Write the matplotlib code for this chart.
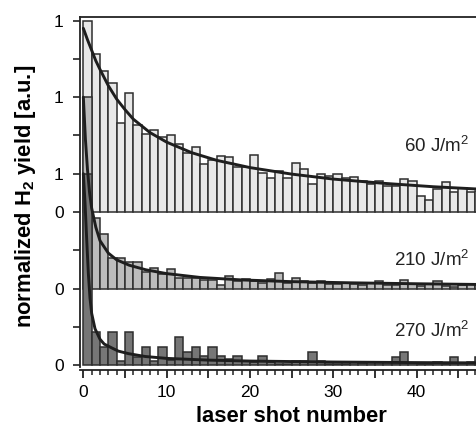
import numpy as np
import matplotlib
matplotlib.use("Agg")
import matplotlib.pyplot as plt
from matplotlib.ticker import MultipleLocator, FixedLocator

plt.rcParams['font.family'] = ['Liberation Sans', 'DejaVu Sans']
plt.rcParams['mathtext.fontset'] = 'custom'
plt.rcParams['mathtext.rm'] = 'Liberation Sans'
plt.rcParams['mathtext.bf'] = 'Liberation Sans:bold'

# ---- data (normalized yields, one value per laser shot) ----
shots = np.arange(48)

v60 = [1.0, 0.825, 0.737, 0.673, 0.464, 0.62, 0.455, 0.407, 0.427, 0.392,
       0.404, 0.356, 0.31, 0.338, 0.249, 0.273, 0.292, 0.288, 0.235, 0.237,
       0.299, 0.202, 0.176, 0.212, 0.177, 0.258, 0.226, 0.146, 0.197, 0.189,
       0.2, 0.179, 0.183, 0.162, 0.147, 0.163, 0.136, 0.136, 0.175, 0.161,
       0.083, 0.061, 0.118, 0.157, 0.103, 0.127, 0.104, 0.11]

v210 = [1.0, 0.37, 0.287, 0.158, 0.157, 0.139, 0.138, 0.086, 0.109, 0.075,
        0.104, 0.057, 0.057, 0.055, 0.044, 0.044, 0.018, 0.068, 0.038, 0.052,
        0.038, 0.03, 0.052, 0.083, 0.028, 0.054, 0.04, 0.027, 0.04, 0.026,
        0.026, 0.031, 0.026, 0.017, 0.03, 0.04, 0.018, 0.018, 0.044, 0.022,
        0.014, 0.022, 0.04, 0.012, 0.01, 0.018, 0.022, 0.022]

v270 = [1.0, 0.171, 0.092, 0.171, 0.019, 0.171, 0.04, 0.094, 0.02, 0.094,
        0.025, 0.145, 0.07, 0.094, 0.047, 0.096, 0.049, 0.03, 0.047, 0.02,
        0.014, 0.047, 0.014, 0.008, 0.008, 0.02, 0.02, 0.068, 0.02, 0.008,
        0.008, 0.008, 0.017, 0.01, 0.017, 0.017, 0.017, 0.04, 0.066, 0.01,
        0.008, 0.008, 0.017, 0.008, 0.044, 0.01, 0.017, 0.04]

# fit curves
fit60_x = [0, 0.5, 1, 1.5, 2, 3, 4, 5, 6, 8, 10, 13, 16, 20, 25, 30, 36, 42, 50]
fit60_y = [0.96, 0.90, 0.845, 0.79, 0.745, 0.66, 0.59, 0.535, 0.485, 0.415,
           0.365, 0.31, 0.27, 0.232, 0.198, 0.172, 0.15, 0.132, 0.114]

fit210_x = [0, 0.25, 0.5, 0.75, 1, 1.5, 2, 3, 4, 5.5, 7.5, 10, 14, 19, 25, 32, 40, 50]
fit210_y = [1.0, 0.78, 0.62, 0.5, 0.42, 0.32, 0.25, 0.185, 0.15, 0.122, 0.098,
            0.078, 0.058, 0.045, 0.036, 0.03, 0.025, 0.02]

fit270_x = [0, 0.2, 0.4, 0.6, 0.8, 1.0, 1.4, 2.0, 2.5, 3.4, 4.2, 5.4, 7.4, 10,
            15, 20, 30, 40, 50]
fit270_y = [1.0, 0.85, 0.66, 0.48, 0.35, 0.27, 0.19, 0.135, 0.11, 0.09, 0.073,
            0.06, 0.045, 0.035, 0.026, 0.021, 0.016, 0.013, 0.011]

offsets = [0.8, 0.4, 0.0]
labels = ['60 J/m$^2$', '210 J/m$^2$', '270 J/m$^2$']
label_y = [1.145, 0.553, 0.18]
colors = ['#e8e8e8', '#bcbcbc', '#767676']

ytick_pos = [0, 0.2, 0.4, 0.6, 0.8, 1.0, 1.2, 1.4, 1.6, 1.8]
ytick_lab = ['0', '', '0', '', '0', '1', '', '1', '', '1']

# ---- figure ----
W, H = 476, 430
fig = plt.figure(figsize=(W / 100, H / 100), dpi=100)
left_px, right_px, top_px, bot_px = 80, 500, 17, 367
ax = fig.add_axes([left_px / W, 1 - bot_px / H, (right_px - left_px) / W,
                   (bot_px - top_px) / H])

series = [v60, v210, v270]
fits = [(fit60_x, fit60_y), (fit210_x, fit210_y), (fit270_x, fit270_y)]
for vals, off, col in zip(series, offsets, colors):
    ax.bar(shots, vals, width=1.0, bottom=off, align='edge', color=col,
           edgecolor='#2e2e2e', linewidth=1.1, zorder=2)
for (fx, fy), off in zip(fits, offsets):
    ax.plot(fx, np.array(fy) + off, color='#1e1e1e', lw=2.1, zorder=4,
            solid_capstyle='round')
for lab, ly in zip(labels, label_y):
    ax.text(46.3, ly, lab, ha='right', va='center', fontsize=13.5, color='#222222')

ax.set_xlim(-0.4, 50)
ax.set_ylim(-0.01, 1.819)

ax.spines['right'].set_visible(False)
for s in ['left', 'bottom', 'top']:
    ax.spines[s].set_linewidth(1.3)
    ax.spines[s].set_color('#222222')
ax.spines['bottom'].set_position(('outward', 2))

ax.yaxis.set_major_locator(FixedLocator(ytick_pos))
ax.set_yticklabels(ytick_lab)
ax.tick_params(axis='y', direction='out', length=5.3, width=1.2, labelsize=12.5,
               pad=6.5, color='#222222')

xt = np.arange(0, 51, 5)
ax.set_xticks(xt)
ax.xaxis.set_minor_locator(MultipleLocator(1))
ax.set_xticklabels([str(v) if v % 10 == 0 and v < 50 else '' for v in xt])
ax.tick_params(axis='x', which='major', direction='out', length=6, width=1.3,
               labelsize=12.5, pad=5, color='#222222')
ax.tick_params(axis='x', which='minor', direction='out', length=3.5, width=1.1,
               color='#222222')

fig.text(291 / W, 1 - 422 / H, 'laser shot number', fontsize=15.8,
         fontweight='bold', ha='center', va='baseline')
fig.text(26 / W, 1 - 196 / H, r'normalized H$_\mathbf{2}$ yield [a.u.]',
         fontsize=15.8, fontweight='bold', rotation=90, ha='center', va='center')

fig.savefig('out.png', dpi=100)
